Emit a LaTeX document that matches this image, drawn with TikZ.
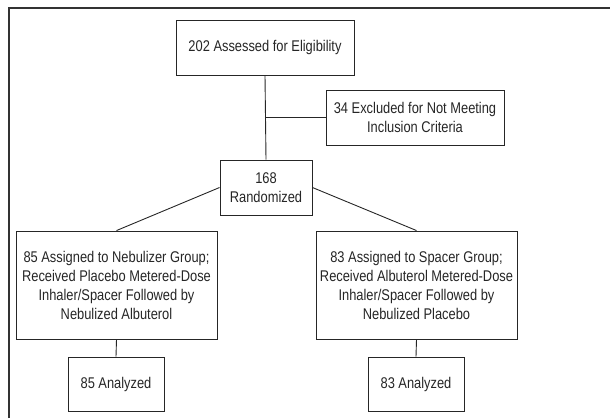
\documentclass[tikz,border=0pt]{standalone}
\usepackage{fontspec}
\setmainfont[FakeStretch=0.83]{Liberation Sans}
\begin{document}
\begin{tikzpicture}[x=1pt,y=-1pt,
  box/.style={draw=black!85, line width=0.9pt, align=center, inner sep=0pt, font=\fontsize{15.5}{19}\selectfont, text=black!85},
  link/.style={draw=black!85, line width=0.9pt}]
\useasboundingbox (0,0) rectangle (610,418);
\draw[line width=1.6pt, draw=black!80] (9,418) -- (9,8) -- (610,8);
\node[box, minimum width=178pt, minimum height=55pt] (assess) at (265,47.5) {202 Assessed for Eligibility};
\node[box, minimum width=178pt, minimum height=55pt] (excl) at (415,117.5) {34 Excluded for Not Meeting\\Inclusion Criteria};
\node[box, minimum width=92pt, minimum height=55pt] (rand) at (266,187.5) {168\\Randomized};
\node[box, minimum width=201pt, minimum height=108pt] (neb) at (116.5,285) {85 Assigned to Nebulizer Group;\\Received Placebo Metered-Dose\\Inhaler/Spacer Followed by\\Nebulized Albuterol};
\node[box, minimum width=201pt, minimum height=108pt] (spa) at (416.5,285) {83 Assigned to Spacer Group;\\Received Albuterol Metered-Dose\\Inhaler/Spacer Followed by\\Nebulized Placebo};
\node[box, minimum width=96pt, minimum height=54pt] (an1) at (116,384) {85 Analyzed};
\node[box, minimum width=96pt, minimum height=54pt] (an2) at (416,384) {83 Analyzed};
\draw[link] (assess.south) -- (rand.north);
\coordinate (j) at (assess.south |- excl.west);
\draw[link] (j) -- (excl.west);
\draw[link] (rand.west) -- (neb.north);
\draw[link] (rand.east) -- (spa.north);
\draw[link] (neb.south) -- (an1.north);
\draw[link] (spa.south) -- (an2.north);
\end{tikzpicture}
\end{document}
